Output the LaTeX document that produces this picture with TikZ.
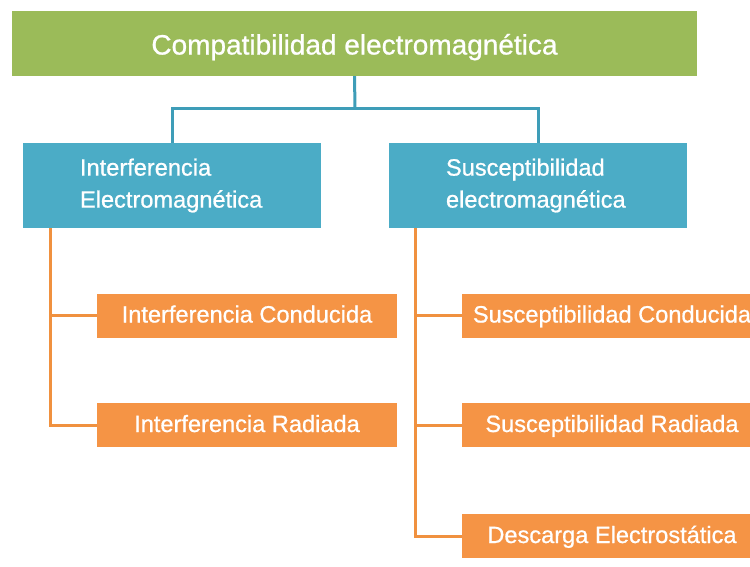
\documentclass[tikz,border=0pt]{standalone}
\usepackage{fontspec}
\setmainfont{Liberation Sans}
\newfontfamily\wfont{Liberation Sans}[FakeBold=0.8]
\definecolor{cgreen}{HTML}{9BBB59}
\definecolor{cblue}{HTML}{4BACC6}
\definecolor{cblueline}{HTML}{3E9DB8}
\definecolor{corange}{HTML}{F59445}
\definecolor{corangeline}{HTML}{F0913F}
\tikzset{
  topbox/.style={fill=cgreen, draw=none, minimum width=685pt, minimum height=65pt, inner sep=0pt,
    text height=22pt, text depth=0pt,
    text=white, font=\wfont\fontsize{28}{30}\selectfont},
  midbox/.style={fill=cblue, draw=none, minimum width=298pt, minimum height=85pt, inner xsep=57pt, inner ysep=0pt,
    text width=184pt, align=left, text=white, font=\wfont\fontsize{23.6}{26}\selectfont},
  leafbox/.style={fill=corange, draw=none, minimum width=300pt, minimum height=44pt, inner sep=0pt,
    text height=17pt, text depth=3pt,
    text=white, font=\wfont\fontsize{23.6}{26}\selectfont},
  blueline/.style={draw=cblueline, line width=3pt},
  orangeline/.style={draw=corangeline, line width=3pt}
}
\begin{document}
\begin{tikzpicture}[x=1pt, y=-1pt]
\clip (0,0) rectangle (750,566);
\fill[white] (0,0) rectangle (750,566);
\node[topbox] (top) at (354.5,43.5) {Compatibilidad electromagnética};
\node[midbox] (ie) at (172,185.5) {\vspace{6pt}Interferencia\\Electromagnética};
\node[midbox] (se) at (538,185.5) {\vspace{6pt}Susceptibilidad\\electromagnética};
\node[leafbox] (ic) at (247,315.5) {Interferencia Conducida};
\node[leafbox] (ir) at (247,425) {Interferencia Radiada};
\node[leafbox] (sc) at (612,315.5) {Susceptibilidad Conducida};
\node[leafbox] (sr) at (612,425) {Susceptibilidad Radiada};
\node[leafbox] (de) at (612,536) {Descarga Electrostática};
\coordinate (j) at (355,108);
\draw[blueline] (top.south) -- (j);
\draw[blueline] (ie.north) |- (j) -| (se.north);
\draw[orangeline] ([xshift=28pt]ie.south west) |- (ic.west);
\draw[orangeline] ([xshift=28pt]ie.south west) |- (ir.west);
\draw[orangeline] ([xshift=27pt]se.south west) |- (sc.west);
\draw[orangeline] ([xshift=27pt]se.south west) |- (sr.west);
\draw[orangeline] ([xshift=27pt]se.south west) |- (de.west);
\end{tikzpicture}
\end{document}
